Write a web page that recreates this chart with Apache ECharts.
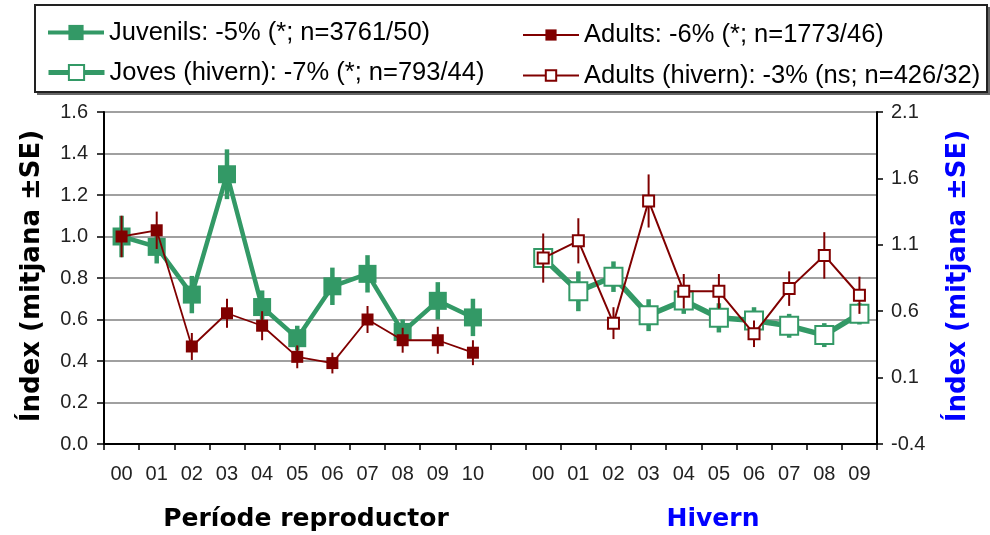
<!DOCTYPE html>
<html>
<head>
<meta charset="utf-8">
<script src="https://cdn.jsdelivr.net/npm/echarts@6/dist/echarts.min.js"></script>
<style>
html,body{margin:0;padding:0;background:#fff;}
#chart{width:990px;height:535px;}
</style>
</head>
<body>
<div id="chart"></div>
<script>
// ---- Data ----
const breedingYears = ['00','01','02','03','04','05','06','07','08','09','10'];
const winterYears   = ['00','01','02','03','04','05','06','07','08','09'];

const juvenils      = [1.00, 0.95, 0.72, 1.30, 0.66, 0.51, 0.76, 0.82, 0.54, 0.69, 0.61];
const juvenilsSE    = [0.10, 0.08, 0.09, 0.12, 0.08, 0.06, 0.09, 0.09, 0.06, 0.09, 0.09];
const adults        = [1.00, 1.03, 0.47, 0.63, 0.57, 0.42, 0.39, 0.60, 0.50, 0.50, 0.44];
const adultsSE      = [0.10, 0.09, 0.065, 0.07, 0.07, 0.055, 0.05, 0.065, 0.06, 0.065, 0.06];

const jovesHivern     = [1.00, 0.75, 0.86, 0.57, 0.68, 0.55, 0.53, 0.49, 0.42, 0.58];
const jovesHivernSE   = [0.05, 0.15, 0.115, 0.12, 0.10, 0.11, 0.10, 0.09, 0.09, 0.08];
const adultsHivern    = [1.00, 1.13, 0.51, 1.43, 0.75, 0.75, 0.43, 0.77, 1.02, 0.72];
const adultsHivernSE  = [0.185, 0.17, 0.12, 0.20, 0.13, 0.13, 0.10, 0.13, 0.175, 0.14];

const seriesNames = [
  'Juvenils: -5% (*; n=3761/50)',
  'Adults: -6% (*; n=1773/46)',
  'Joves (hivern): -7% (*; n=793/44)',
  'Adults (hivern): -3% (ns; n=426/32)'
];
const leftAxis  = {min: 0, max: 1.6, interval: 0.2};
const rightAxis = {min: -0.4, max: 2.1, interval: 0.5};
const xTitles = ['Període reproductor', 'Hivern'];
const yTitle = 'Índex (mitjana ±SE)';

// ---- Build ----
const GREEN = '#339966', RED = '#800000', BLUE = '#0000ff';
const categories = breedingYears.concat(['']).concat(winterYears);
const winterOffset = breedingYears.length + 1;
const padBreeding = arr => arr.concat(new Array(categories.length - arr.length).fill(null));
const padWinter = arr => new Array(winterOffset).fill(null).concat(arr);

function errData(vals, se, offset) {
  return vals.map((v, i) => [i + offset, v, se[i]]);
}
function errRender(color, width) {
  return function (params, api) {
    const x = api.value(0), v = api.value(1), s = api.value(2);
    const p1 = api.coord([x, v + s]);
    const p2 = api.coord([x, v - s]);
    return {
      type: 'line',
      shape: {x1: p1[0], y1: p1[1], x2: p2[0], y2: p2[1]},
      style: {stroke: color, lineWidth: width}
    };
  };
}
function errSeries(name, vals, se, offset, yIdx, color, width, z) {
  return {
    type: 'custom', name: name, yAxisIndex: yIdx, z: z, silent: true,
    renderItem: errRender(color, width),
    data: errData(vals, se, offset),
    encode: {x: 0, y: 1}
  };
}

const legendFont = {fontFamily: 'Liberation Sans, Arial, sans-serif', fontSize: 25.5, color: '#000'};
function mkLegend(name, left, centerY, itemHeight, lineWidth) {
  return {
    data: [name], left: left, top: centerY - itemHeight / 2, padding: 0,
    itemWidth: 56, itemHeight: itemHeight, textStyle: legendFont,
    lineStyle: {width: lineWidth},
    selectedMode: false, z: 10
  };
}

const chart = echarts.init(document.getElementById('chart'), null, {renderer: 'canvas'});
const tickFont = {fontFamily: 'Liberation Sans, Arial, sans-serif', fontSize: 20, color: '#222'};

chart.setOption({
  animation: false,
  backgroundColor: '#fff',
  grid: {left: 104, top: 112, right: 113, bottom: 91, containLabel: false},
  legend: [
    mkLegend(seriesNames[0], 46, 29, 19, 4),
    mkLegend(seriesNames[1], 522, 29, 14, 2),
    mkLegend(seriesNames[2], 46, 69, 19, 5),
    mkLegend(seriesNames[3], 522, 69, 13, 2)
  ],
  xAxis: {
    type: 'category', data: categories, boundaryGap: true,
    axisLine: {lineStyle: {color: '#000', width: 2}},
    axisTick: {show: true, interval: 0, length: 6, lineStyle: {color: '#000', width: 1.5}},
    axisLabel: Object.assign({interval: 0, margin: 20}, tickFont),
    splitLine: {show: false}
  },
  yAxis: [
    {
      type: 'value', position: 'left', min: leftAxis.min, max: leftAxis.max, interval: leftAxis.interval,
      axisLine: {show: true, lineStyle: {color: '#000', width: 2}},
      axisTick: {show: true, length: 7, lineStyle: {color: '#000', width: 1.5}},
      axisLabel: Object.assign({margin: 16, formatter: v => v.toFixed(1), showMinLabel: true, showMaxLabel: true}, tickFont),
      splitLine: {show: true, lineStyle: {color: '#a0a0a0', width: 2}}
    },
    {
      type: 'value', position: 'right', min: rightAxis.min, max: rightAxis.max, interval: rightAxis.interval,
      axisLine: {show: true, lineStyle: {color: '#000', width: 2}},
      axisTick: {show: true, length: 6, lineStyle: {color: '#000', width: 1.5}},
      axisLabel: Object.assign({margin: 14, formatter: v => v.toFixed(1), showMinLabel: true, showMaxLabel: true}, tickFont),
      splitLine: {show: false}
    }
  ],
  series: [
    errSeries('errJuv', juvenils, juvenilsSE, 0, 0, GREEN, 4.5, 2),
    {
      name: seriesNames[0], type: 'line', yAxisIndex: 0, z: 3,
      data: padBreeding(juvenils),
      symbol: 'rect', symbolSize: 18, showSymbol: true,
      lineStyle: {color: GREEN, width: 4.5},
      itemStyle: {color: GREEN},
      emphasis: {disabled: true}
    },
    errSeries('errAd', adults, adultsSE, 0, 0, RED, 2, 4),
    {
      name: seriesNames[1], type: 'line', yAxisIndex: 0, z: 5,
      data: padBreeding(adults),
      symbol: 'rect', symbolSize: 12, showSymbol: true,
      lineStyle: {color: RED, width: 1.8},
      itemStyle: {color: RED},
      emphasis: {disabled: true}
    },
    errSeries('errJovH', jovesHivern, jovesHivernSE, winterOffset, 1, GREEN, 4.5, 6),
    {
      name: seriesNames[2], type: 'line', yAxisIndex: 1, z: 7,
      data: padWinter(jovesHivern),
      symbol: 'rect', symbolSize: 18, showSymbol: true,
      lineStyle: {color: GREEN, width: 5.5},
      itemStyle: {color: '#fff', borderColor: GREEN, borderWidth: 2},
      emphasis: {disabled: true}
    },
    errSeries('errAdH', adultsHivern, adultsHivernSE, winterOffset, 1, RED, 2, 8),
    {
      name: seriesNames[3], type: 'line', yAxisIndex: 1, z: 9,
      data: padWinter(adultsHivern),
      symbol: 'rect', symbolSize: 11, showSymbol: true,
      lineStyle: {color: RED, width: 2},
      itemStyle: {color: '#fff', borderColor: RED, borderWidth: 2},
      emphasis: {disabled: true}
    }
  ],
  graphic: [
    {type: 'rect', z: 0, shape: {x: 37, y: 7, width: 953, height: 88}, style: {fill: '#666'}},
    {type: 'rect', z: 1, shape: {x: 35, y: 5, width: 952, height: 87}, style: {fill: '#fff', stroke: '#222', lineWidth: 2}},
    {type: 'text', z: 5, x: 32, y: 276, rotation: Math.PI / 2,
      style: {text: yTitle, font: 'bold 26px "DejaVu Sans", Verdana, sans-serif', fill: '#000', textAlign: 'center', textVerticalAlign: 'middle'}},
    {type: 'text', z: 5, x: 958, y: 276, rotation: Math.PI / 2,
      style: {text: yTitle, font: 'bold 26px "DejaVu Sans", Verdana, sans-serif', fill: BLUE, textAlign: 'center', textVerticalAlign: 'middle'}},
    {type: 'text', z: 5, x: 306, y: 519,
      style: {text: xTitles[0], font: 'bold 25px "DejaVu Sans", Verdana, sans-serif', fill: '#000', textAlign: 'center', textVerticalAlign: 'middle'}},
    {type: 'text', z: 5, x: 713, y: 519,
      style: {text: xTitles[1], font: 'bold 25px "DejaVu Sans", Verdana, sans-serif', fill: BLUE, textAlign: 'center', textVerticalAlign: 'middle'}}
  ]
});
</script>
</body>
</html>
